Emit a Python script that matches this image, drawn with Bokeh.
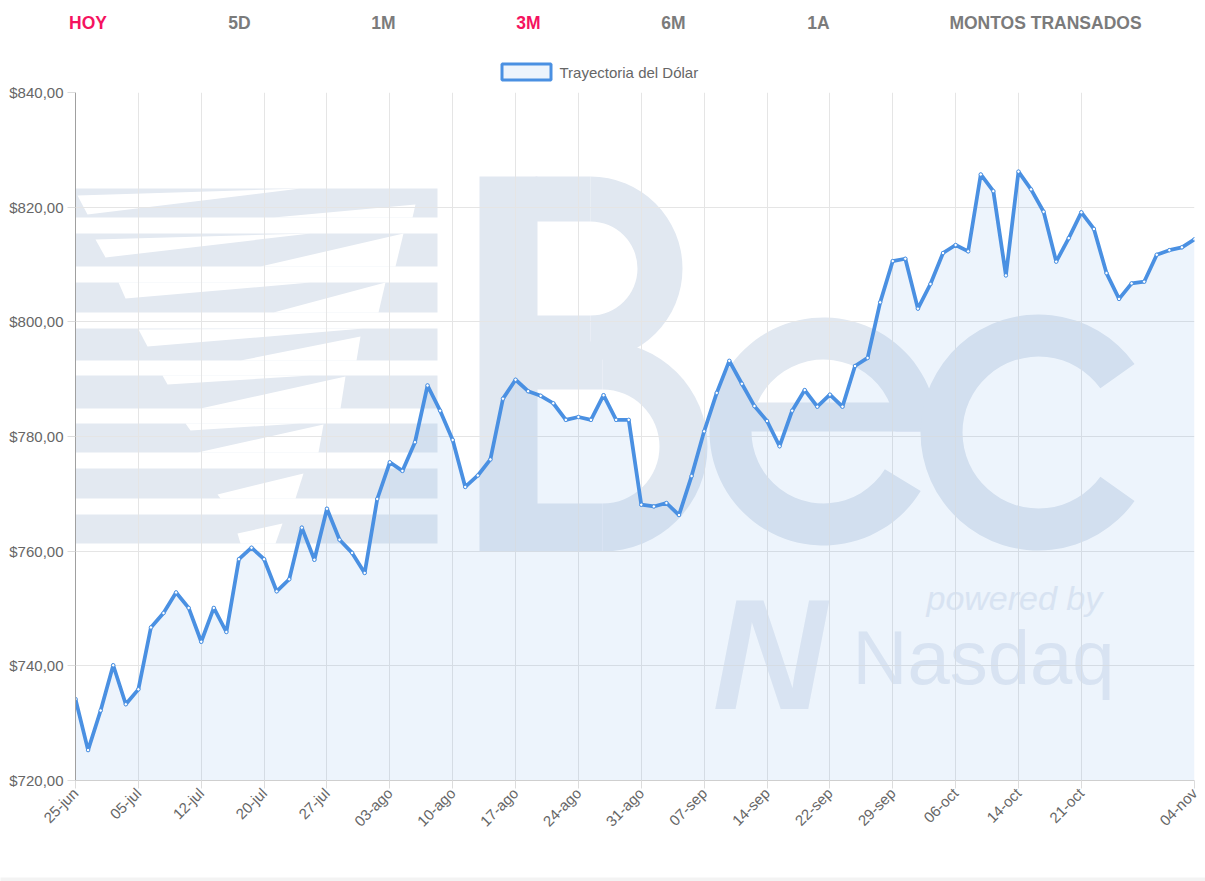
import math
from bokeh.plotting import figure
from bokeh.models import Range1d, FixedTicker, ColumnDataSource
from bokeh.layouts import column
from bokeh.embed import file_html
from bokeh.resources import INLINE
from bokeh.core.properties import value

# ---------------- data ----------------
DATES = [
    "25-jun", "29-jun", "30-jun", "01-jul", "02-jul", "05-jul", "06-jul", "07-jul", "08-jul", "09-jul",
    "12-jul", "13-jul", "14-jul", "15-jul", "19-jul", "20-jul", "21-jul", "22-jul", "23-jul", "26-jul",
    "27-jul", "28-jul", "29-jul", "30-jul", "02-ago", "03-ago", "04-ago", "05-ago", "06-ago", "09-ago",
    "10-ago", "11-ago", "12-ago", "13-ago", "16-ago", "17-ago", "18-ago", "19-ago", "20-ago", "23-ago",
    "24-ago", "25-ago", "26-ago", "27-ago", "30-ago", "31-ago", "01-sep", "02-sep", "03-sep", "06-sep",
    "07-sep", "08-sep", "09-sep", "10-sep", "13-sep", "14-sep", "15-sep", "16-sep", "20-sep", "21-sep",
    "22-sep", "23-sep", "24-sep", "27-sep", "28-sep", "29-sep", "30-sep", "01-oct", "04-oct", "05-oct",
    "06-oct", "07-oct", "08-oct", "12-oct", "13-oct", "14-oct", "15-oct", "18-oct", "19-oct", "20-oct",
    "21-oct", "22-oct", "25-oct", "26-oct", "27-oct", "28-oct", "29-oct", "02-nov", "03-nov", "04-nov",
]
PRICES = [
    734.2, 725.3, 732.2, 740.1, 733.3, 735.9, 746.7, 749.2, 752.8, 750.1,
    744.2, 750.1, 745.9, 758.6, 760.6, 758.6, 753.0, 755.1, 764.1, 758.5,
    767.4, 762.0, 759.7, 756.2, 769.1, 775.5, 774.0, 779.0, 788.9, 784.5,
    779.4, 771.2, 773.2, 776.0, 786.6, 789.9, 787.9, 787.1, 785.8, 782.9,
    783.4, 782.9, 787.2, 782.9, 782.9, 768.1, 767.8, 768.4, 766.3, 773.1,
    780.9, 787.6, 793.2, 789.2, 785.3, 782.7, 778.3, 784.5, 788.1, 785.2,
    787.3, 785.2, 792.3, 793.7, 803.4, 810.6, 811.0, 802.3, 806.6, 812.0,
    813.4, 812.3, 825.7, 822.8, 808.1, 826.2, 823.1, 819.2, 810.5, 814.6,
    819.1, 816.2, 808.5, 804.0, 806.7, 807.0, 811.7, 812.5, 813.0, 814.4,
]
X_TICK_INDEX = [0, 5, 10, 15, 20, 25, 30, 35, 40, 45, 50, 55, 60, 65, 70, 75, 80, 89]
Y_TICKS = [720, 740, 760, 780, 800, 820, 840]
Y_TICK_LABELS = ["$720,00", "$740,00", "$760,00", "$780,00", "$800,00", "$820,00", "$840,00"]
NAV_ITEMS = ["HOY", "5D", "1M", "3M", "6M", "1A", "MONTOS TRANSADOS"]
NAV_ACTIVE = [True, False, False, True, False, False, False]
LEGEND_LABEL = "Trayectoria del Dólar"

# ---------------- style ----------------
FONT = "Liberation Sans"
LINE = "#4a90e2"
GRID = "#e5e5e5"
TXT = "#666666"
WM = "#e1e8f1"
WM_STRIPE = "#e3e9f1"
WM2 = "#e8edf4"
RED = "#f5135f"
GRAY = "#7b7b7b"
FOOT = "#f3f3f3"

W = 1205
TOP_H = 82
FOOT_H = 8
CH_H = 791
B_L, B_R, B_T, B_B = 75, 11, 10, 93
FW = W - B_L - B_R          # 1119
FH = CH_H - B_T - B_B       # 688
PAGE_FL = B_L
PAGE_FT = TOP_H + B_T

# ---------------- top bar (nav + legend) ----------------
top = figure(width=W, height=TOP_H, x_range=Range1d(0, W), y_range=Range1d(TOP_H, 0),
             output_backend="svg", toolbar_location=None,
             x_axis_location=None, y_axis_location=None,
             min_border_left=0, min_border_right=0, min_border_top=0, min_border_bottom=0)
top.frame_align = False
top.grid.visible = False
top.outline_line_color = None
NAV_X = [87.5, 239, 383, 528, 673, 818, 1045]
top.text(x=NAV_X, y=[22] * len(NAV_ITEMS), text=NAV_ITEMS,
         text_color=[RED if a else GRAY for a in NAV_ACTIVE],
         text_font=value(FONT), text_font_style="bold", text_font_size="17.5px",
         text_align="center", text_baseline="middle")
top.quad(left=[501.5], right=[550.5], top=[63.5], bottom=[79.5],
         fill_color=LINE, fill_alpha=0.1, line_color=LINE, line_width=3)
top.text(x=[559], y=[71.5], text=[LEGEND_LABEL], text_color=TXT,
         text_font=value(FONT), text_font_size="15px",
         text_align="left", text_baseline="middle")

# ---------------- chart ----------------
p = figure(width=W, height=CH_H, x_range=Range1d(0, len(PRICES) - 1),
           y_range=Range1d(Y_TICKS[0], Y_TICKS[-1]),
           output_backend="svg", toolbar_location=None,
           min_border_left=B_L, min_border_right=B_R, min_border_top=B_T, min_border_bottom=B_B)
p.frame_align = False
p.outline_line_color = None


def wx(px):
    return (px - PAGE_FL) / FW * (len(PRICES) - 1)


def wy(py):
    return Y_TICKS[-1] - (py - PAGE_FT) / FH * (Y_TICKS[-1] - Y_TICKS[0])


# watermark (background picture of the original page), placed in page pixels
stripe_tops = [188, 233, 282, 328, 375, 423, 468, 514]
stripe_bots = [217, 266, 312, 360, 408, 452, 498, 543]
p.quad(left=[wx(67)] * 8, right=[wx(437)] * 8, top=[wy(t) for t in stripe_tops],
       bottom=[wy(b) for b in stripe_bots], fill_color=WM_STRIPE, line_color=None, level="image")
streaks = [
    [(77, 195), (87, 214), (300, 188)],
    [(273, 217), (415, 204), (412, 217)],
    [(95, 239), (105, 257), (310, 233)],
    [(260, 266), (403, 233), (395, 266)],
    [(118, 282), (125, 298), (310, 282)],
    [(273, 312), (385, 282), (378, 312)],
    [(138, 329), (147, 346), (363, 328)],
    [(240, 360), (360, 336), (356, 360)],
    [(162, 375), (167, 384), (310, 375)],
    [(200, 408), (345, 376), (340, 408)],
    [(185, 423), (190, 430), (300, 423)],
    [(197, 452), (323, 424), (318, 452)],
    [(217, 494), (303, 473), (295, 498), (220, 498)],
    [(237, 533), (282, 523), (275, 543), (240, 543)],
]
p.patches(xs=[[wx(a) for a, b in s] for s in streaks], ys=[[wy(b) for a, b in s] for s in streaks],
          fill_color="white", line_color=None, level="image")
# "B"
p.quad(left=[wx(479), wx(535), wx(535), wx(535), wx(535)],
       right=[wx(537), wx(590), wx(590), wx(602), wx(602)],
       top=[wy(176), wy(176), wy(315), wy(341), wy(503)],
       bottom=[wy(551), wy(221), wy(360), wy(389), wy(551)],
       fill_color=WM, line_color=None, level="image")
p.annular_wedge(x=[wx(590), wx(602)], y=[wy(268), wy(446)], inner_radius=[47, 57], outer_radius=[92, 105],
                inner_radius_units="screen", outer_radius_units="screen",
                start_angle=-math.pi / 2, end_angle=math.pi / 2,
                fill_color=WM, line_color=None, level="image")
# "e"
p.annular_wedge(x=[wx(823)], y=[wy(431)], inner_radius=72, outer_radius=114,
                inner_radius_units="screen", outer_radius_units="screen",
                start_angle=0.0, end_angle=-0.55,
                fill_color=WM, line_color=None, level="image")
p.quad(left=[wx(745)], right=[wx(937)], top=[wy(402)], bottom=[wy(431)],
       fill_color=WM, line_color=None, level="image")
# "c"
p.annular_wedge(x=[wx(1038)], y=[wy(432)], inner_radius=76, outer_radius=118,
                inner_radius_units="screen", outer_radius_units="screen",
                start_angle=0.62, end_angle=-0.62,
                fill_color=WM, line_color=None, level="image")
# "powered by Nasdaq"
p.text(x=[wx(712)], y=[wy(653)], text=["N"], text_color=WM2, text_font=value(FONT),
       text_font_style="bold italic", text_font_size="158px", text_align="left",
       text_baseline="middle", level="image")
p.text(x=[wx(926)], y=[wy(597)], text=["powered by"], text_color=WM2, text_font=value(FONT),
       text_font_style="italic", text_font_size="34px", text_align="left",
       text_baseline="middle", level="image")
p.text(x=[wx(852)], y=[wy(657)], text=["Nasdaq"], text_color=WM2, text_font=value(FONT),
       text_font_size="76px", text_align="left", text_baseline="middle", level="image")

# data
src = ColumnDataSource(dict(x=list(range(len(PRICES))), y=PRICES, d=DATES))
p.varea(x="x", y1=Y_TICKS[0], y2="y", source=src, fill_color=LINE, fill_alpha=0.1)
p.line(x="x", y="y", source=src, line_color=LINE, line_width=3.75, line_join="round")
p.scatter(x="x", y="y", source=src, size=3.5, fill_color="white", line_color=LINE, line_width=1)

p.xaxis.ticker = FixedTicker(ticks=X_TICK_INDEX)
p.xaxis.major_label_overrides = {i: DATES[i] for i in X_TICK_INDEX}
p.yaxis.ticker = FixedTicker(ticks=Y_TICKS)
p.yaxis.major_label_overrides = dict(zip(Y_TICKS, Y_TICK_LABELS))
p.xaxis.major_label_orientation = math.pi / 4
p.axis.major_label_text_font = FONT
p.axis.major_label_text_font_size = "15px"
p.axis.major_label_text_color = TXT
p.axis.major_tick_in = 0
p.axis.major_tick_out = 8
p.axis.minor_tick_line_color = None
p.axis.major_tick_line_color = "#dcdcdc"
p.xaxis.axis_line_color = "#cfcfcf"
p.yaxis.axis_line_color = "#a0a0a0"
p.xaxis.major_label_standoff = 2
p.yaxis.major_label_standoff = 4
p.grid.grid_line_color = GRID

# ---------------- page footer strip ----------------
foot = figure(width=W, height=FOOT_H, x_range=Range1d(0, 1), y_range=Range1d(0, 1),
              output_backend="svg", toolbar_location=None,
              x_axis_location=None, y_axis_location=None,
              min_border_left=0, min_border_right=0, min_border_top=0, min_border_bottom=0,
              background_fill_color=FOOT, border_fill_color=FOOT)
foot.frame_align = False
foot.grid.visible = False
foot.outline_line_color = None

layout = column(top, p, foot, spacing=0)
open("out.html", "w").write(file_html(layout, INLINE))
